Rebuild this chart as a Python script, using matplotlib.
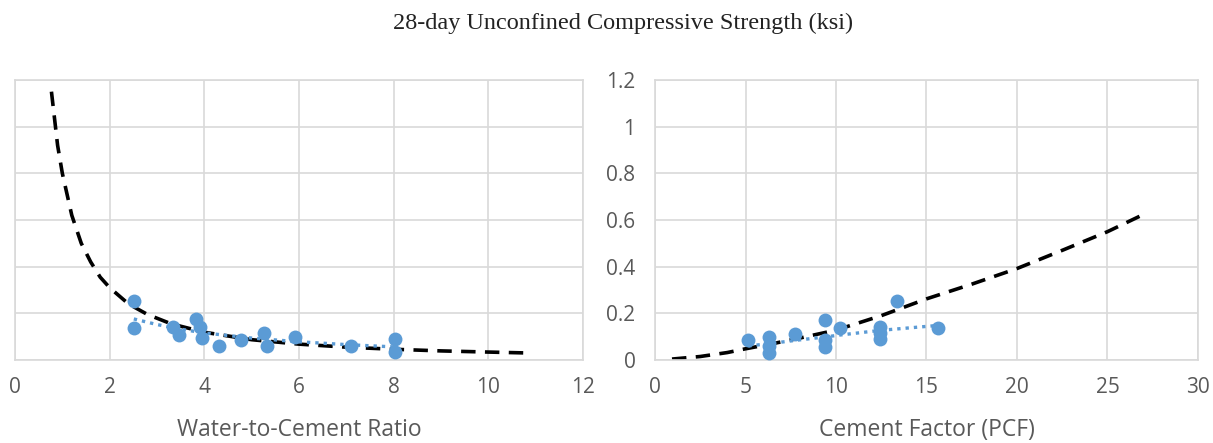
import matplotlib
matplotlib.use('Agg')
import matplotlib.pyplot as plt

# Left panel: water-to-cement ratio vs 28-day UCS (ksi)
wc_x = [2.51, 2.51, 3.33, 3.46, 3.83, 3.91, 3.95, 4.30, 4.77, 5.25, 5.33, 5.91, 7.10, 8.02, 8.02]
wc_y = [0.251, 0.137, 0.140, 0.109, 0.176, 0.140, 0.094, 0.059, 0.086, 0.114, 0.059, 0.097, 0.059, 0.090, 0.033]
# dashed trend
wc_trend_x = [0.77, 0.9, 1.0, 1.2, 1.4, 1.6, 1.8, 2.0, 2.4, 2.8, 3.3, 4.0, 5.0, 6.0, 7.0, 8.0, 9.0, 10.0, 10.85]
wc_trend_y = [1.15, 0.92, 0.80, 0.62, 0.50, 0.42, 0.355, 0.31, 0.24, 0.195, 0.155, 0.119, 0.087, 0.068, 0.055, 0.046, 0.039, 0.034, 0.030]
# dotted fit through the points
wc_fit_x = [2.51, 3.0, 3.5, 4.0, 5.0, 6.0, 7.0, 8.02]
wc_fit_y = [0.176, 0.152, 0.132, 0.116, 0.094, 0.078, 0.066, 0.056]

# Right panel: cement factor (PCF) vs 28-day UCS (ksi)
cf_x = [5.15, 6.29, 6.29, 6.29, 7.75, 9.41, 9.41, 9.41, 10.22, 12.45, 12.45, 12.45, 13.38, 15.61]
cf_y = [0.086, 0.097, 0.061, 0.029, 0.111, 0.171, 0.086, 0.054, 0.137, 0.140, 0.114, 0.090, 0.251, 0.137]
cf_trend_x = [0.94, 2.5, 4.0, 5.0, 6.5, 8.0, 10.0, 12.5, 15.0, 17.5, 20.0, 22.5, 25.0, 27.1]
cf_trend_y = [0.004, 0.015, 0.032, 0.048, 0.070, 0.094, 0.128, 0.190, 0.262, 0.325, 0.392, 0.470, 0.550, 0.628]
cf_fit_x = [5.15, 6.29, 7.75, 9.41, 10.22, 12.45, 15.61]
cf_fit_y = [0.060, 0.070, 0.084, 0.099, 0.107, 0.127, 0.148]

BLUE = '#5B9BD5'
GRID = '#d9d9d9'
TICK = '#595959'
SANS = 'Open Sans'

fig = plt.figure(figsize=(12.13, 4.43), dpi=100)
ax1 = fig.add_axes([15 / 1213, 1 - 360 / 443, 568 / 1213, 280 / 443])
ax2 = fig.add_axes([655 / 1213, 1 - 360 / 443, 543 / 1213, 280 / 443])


def style(ax, xmax, xstep, xlabel, ylabels):
    ax.set_xlim(0, xmax)
    ax.set_ylim(0, 1.2)
    ax.set_xticks(range(0, xmax + 1, xstep))
    ax.set_yticks([0, 0.2, 0.4, 0.6, 0.8, 1.0, 1.2])
    ax.grid(True, color=GRID, lw=1.2)
    ax.set_axisbelow(True)
    for s in ax.spines.values():
        s.set_color(GRID)
        s.set_linewidth(1.2)
    ax.tick_params(length=0, colors=TICK, labelsize=15, pad=12)
    ax.set_xticklabels([str(v) for v in range(0, xmax + 1, xstep)], family=SANS)
    if ylabels:
        ax.set_yticklabels(['0', '0.2', '0.4', '0.6', '0.8', '1', '1.2'], family=SANS)
        ax.tick_params(axis='y', pad=14)
    else:
        ax.set_yticklabels([])
    ax.set_xlabel(xlabel, family=SANS, fontsize=16.5, color=TICK, labelpad=15)


ax1.plot(wc_trend_x, wc_trend_y, color='black', lw=2.6, ls=(0, (4, 2.6)), zorder=2)
ax1.plot(wc_fit_x, wc_fit_y, color=BLUE, lw=2.4, ls=(0, (1, 1.5)), zorder=3)
ax1.scatter(wc_x, wc_y, s=100, color=BLUE, zorder=4, linewidths=0)
style(ax1, 12, 2, 'Water-to-Cement Ratio', False)

ax2.plot(cf_trend_x, cf_trend_y, color='black', lw=2.6, ls=(0, (4, 2.6)), zorder=2)
ax2.plot(cf_fit_x, cf_fit_y, color=BLUE, lw=2.4, ls=(0, (1, 1.5)), zorder=3)
ax2.scatter(cf_x, cf_y, s=100, color=BLUE, zorder=4, linewidths=0)
style(ax2, 30, 5, 'Cement Factor (PCF)', True)

fig.text(623 / 1213, 1 - 23 / 443, '28-day Unconfined Compressive Strength (ksi)',
         ha='center', va='center', family='Liberation Serif', fontsize=17.5, color='#222222')

fig.savefig('out.png', dpi=100)
